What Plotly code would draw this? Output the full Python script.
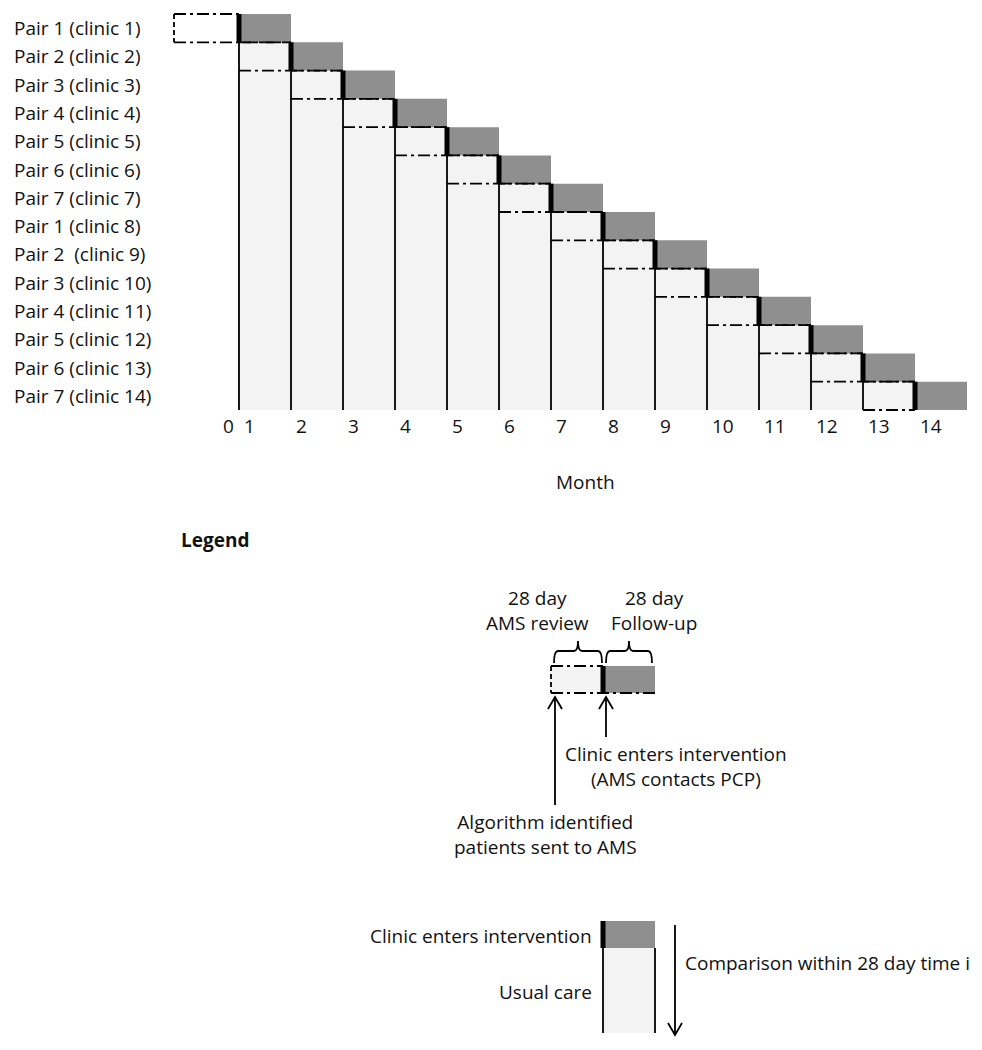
import plotly.graph_objects as go

# ---------------- data ----------------
row_labels = [
    "Pair 1 (clinic 1)", "Pair 2 (clinic 2)", "Pair 3 (clinic 3)", "Pair 4 (clinic 4)",
    "Pair 5 (clinic 5)", "Pair 6 (clinic 6)", "Pair 7 (clinic 7)", "Pair 1 (clinic 8)",
    "Pair 2  (clinic 9)", "Pair 3 (clinic 10)", "Pair 4 (clinic 11)", "Pair 5 (clinic 12)",
    "Pair 6 (clinic 13)", "Pair 7 (clinic 14)",
]
intervention_start = [1, 2, 3, 4, 5, 6, 7, 8, 9, 10, 11, 12, 13, 14]   # month clinic enters intervention
review_start = [-0.25, 1, 2, 3, 4, 5, 6, 7, 8, 9, 10, 11, 12, 13]      # start of 28-day AMS review
followup_months = 1
month_ticks = list(range(0, 15))

# ---------------- style ----------------
GRAY = "#8f8f8f"
LIGHT = "#f3f3f3"
BLACK = "#000000"
FONT = "Open Sans"
FS = 19
DASHDOT = "12px,4px,3px,4px"
LW = 1.8
PXX = 52.0          # px per month
PXY = 28.2857       # px per row
WIN_W, WIN_H = 982, 1050
BODY = 8            # default page margin around the plot div
W, H = WIN_W - BODY, WIN_H - BODY
X_LINE1 = 239       # page pixel of month 1 line
Y_TOP = 14          # page pixel top of first row


def dx(px):
    return px / PXX


def dy(px):
    return px / PXY


def X(px):
    return (px - X_LINE1) / PXX + 1


def Y(py):
    return (py - Y_TOP) / PXY


n = len(row_labels)
shapes = []
ann = []


def rect(x0, x1, y0, y1, color):
    shapes.append(dict(type="rect", xref="x", yref="y", x0=x0, x1=x1, y0=y0, y1=y1,
                       fillcolor=color, line=dict(width=0), layer="above"))


def seg(x0, y0, x1, y1, width=LW, dash="solid", color=BLACK):
    shapes.append(dict(type="line", xref="x", yref="y", x0=x0, y0=y0, x1=x1, y1=y1,
                       line=dict(color=color, width=width, dash=dash), layer="above"))


def vhead(x, y, up=True):
    h = dy(12) * (1 if up else -1)
    w = dx(7)
    shapes.append(dict(type="path", xref="x", yref="y",
                       path=f"M {x-w},{y+h} L {x},{y} L {x+w},{y+h}",
                       line=dict(color=BLACK, width=LW), layer="above"))


# fills
for i, s in enumerate(intervention_start):
    if i < n - 1:
        rect(s, s + followup_months, i + 1, n, LIGHT)
    rect(s, s + followup_months, i, i + 1, GRAY)

# dash-dot review boxes and follow-up bottoms
for i, (s, r) in enumerate(zip(intervention_start, review_start)):
    seg(r, i, s, i, dash=DASHDOT)
    end = s + followup_months if i < n - 1 else s
    seg(r, i + 1, end, i + 1, dash=DASHDOT)
    if i == 0:
        seg(r, i, r, i + 1, dash="5px,3px")

# thin solid verticals and thick intervention bars
for i, s in enumerate(intervention_start):
    if i < n - 1:
        seg(s, i + 1, s, n)
    seg(s, i, s, i + 1, width=5)

# row labels
for i, lab in enumerate(row_labels):
    ann.append(dict(x=X(12), y=i + 0.5, text=lab, showarrow=False,
                    xanchor="left", yanchor="middle", font=dict(size=FS)))

# month tick labels
for m in month_ticks:
    if m == 0:
        ann.append(dict(x=1, y=Y(426), text=str(m), showarrow=False, xanchor="right",
                        yanchor="middle", xshift=-3, font=dict(size=FS)))
    else:
        ann.append(dict(x=m, y=Y(426), text=str(m), showarrow=False, xanchor="left",
                        yanchor="middle", xshift=3, font=dict(size=FS)))

ann.append(dict(x=X(585), y=Y(482), text="Month", showarrow=False, font=dict(size=FS)))
ann.append(dict(x=X(179), y=Y(540), text="<b>Legend</b>", showarrow=False, xanchor="left",
                font=dict(size=FS)))

# ---------------- legend 1 ----------------
L0 = 7            # review box start (month units in legend)
L1 = L0 + 1       # intervention start
L2 = L1 + followup_months
ly0, ly1 = Y(666), Y(693)
rect(L0, L1, ly0, ly1, LIGHT)
rect(L1, L2, ly0, ly1, GRAY)
seg(L0, ly0, L1, ly0, dash=DASHDOT)
seg(L0, ly1, L2, ly1, dash=DASHDOT)
seg(L0, ly0, L0, ly1, dash="5px,3px")
seg(L1, ly0, L1, ly1, width=5)


def brace(x0, x1, yh, yend, ytip):
    xc = (x0 + x1) / 2
    rx = dx(4)
    path = (f"M {x0},{yend} Q {x0},{yh} {x0+rx},{yh} L {xc-rx},{yh} Q {xc},{yh} {xc},{ytip} "
            f"Q {xc},{yh} {xc+rx},{yh} L {x1-rx},{yh} Q {x1},{yh} {x1},{yend}")
    shapes.append(dict(type="path", xref="x", yref="y", path=path,
                       line=dict(color=BLACK, width=LW), layer="above"))


brace(X(554), X(602), Y(651), Y(663), Y(641))
brace(X(606), X(652), Y(651), Y(663), Y(641))

ann.append(dict(x=X(537), y=Y(610), text="28 day<br>AMS review", showarrow=False,
                font=dict(size=FS)))
ann.append(dict(x=X(654), y=Y(610), text="28 day<br>Follow-up", showarrow=False,
                font=dict(size=FS)))

# arrows
seg(X(555), Y(697), X(555), Y(805))
vhead(X(555), Y(697), up=True)
seg(X(606), Y(697), X(606), Y(737))
vhead(X(606), Y(697), up=True)

ann.append(dict(x=X(676), y=Y(766), text="Clinic enters intervention<br>(AMS contacts PCP)",
                showarrow=False, font=dict(size=FS)))
ann.append(dict(x=X(545), y=Y(834), text="Algorithm identified<br>patients sent to AMS",
                showarrow=False, font=dict(size=FS)))

# ---------------- legend 2 ----------------
g0, g1, g2 = Y(921), Y(948), Y(1033)
rect(8, 9, g0, g1, GRAY)
rect(8, 9, g1, g2, LIGHT)
seg(8, g1, 8, g2)
seg(9, g1, 9, g2)
seg(8, g0, 8, g1, width=5)
ann.append(dict(x=X(594), y=Y(936), text="Clinic enters intervention", showarrow=False,
                xanchor="right", font=dict(size=FS)))
ann.append(dict(x=X(594), y=Y(992), text="Usual care", showarrow=False,
                xanchor="right", font=dict(size=FS)))
seg(X(675), Y(925), X(675), Y(1035))
vhead(X(675), Y(1035), up=False)
ann.append(dict(x=X(683), y=Y(963), text="Comparison within 28 day time i", showarrow=False,
                xanchor="left", font=dict(size=FS)))

fig = go.Figure()
fig.add_trace(go.Scatter(x=[0], y=[0], mode="markers", marker=dict(opacity=0),
                         hoverinfo="skip", showlegend=False))
fig.update_layout(
    width=W, height=H, autosize=False,
    margin=dict(l=0, r=0, t=0, b=0, pad=0),
    paper_bgcolor="white", plot_bgcolor="white",
    font=dict(family=FONT, size=FS, color="#111111"),
    xaxis=dict(range=[X(BODY), X(WIN_W)], visible=False, fixedrange=True),
    yaxis=dict(range=[Y(WIN_H), Y(BODY)], visible=False, fixedrange=True),
    shapes=shapes, annotations=ann, showlegend=False,
)
fig.write_html("out.html", config={"displayModeBar": False})
